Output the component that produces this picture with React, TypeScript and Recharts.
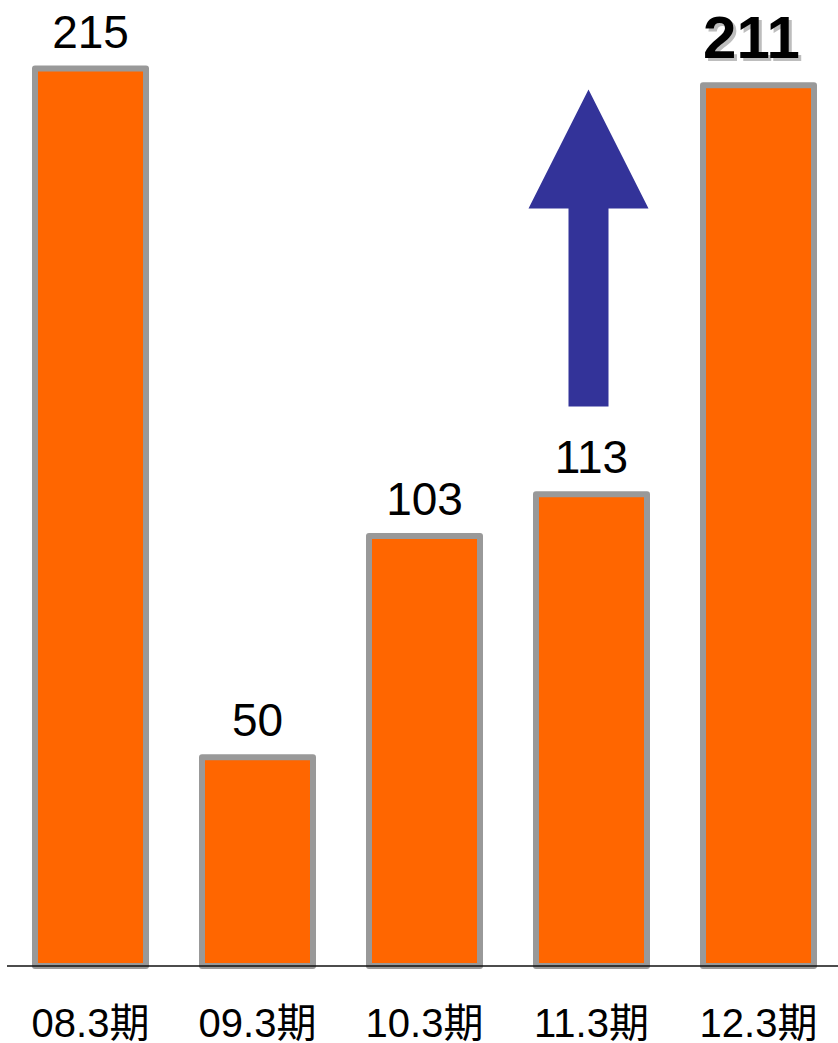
import React from 'react';
import { BarChart, Bar, XAxis, YAxis, LabelList, ReferenceDot } from 'recharts';

const periods = ['08.3期', '09.3期', '10.3期', '11.3期', '12.3期'];
const amounts = [215, 50, 103, 113, 211];
const highlightIndex = 4;
const arrowPeriod = '11.3期';
const arrowTipValue = 210;

const data = periods.map((period, i) => ({ period, value: amounts[i] }));

const FONT = "'Liberation Sans', Arial, 'Noto Sans CJK JP', sans-serif";

// Value label above each bar, last one bold with a soft shadow
const ValueLabel = (props: any) => {
  const { x, y, width, value, index } = props;
  const cx = x + width / 2;
  if (index === highlightIndex) {
    return (
      <g>
        <text x={cx - 4} y={y - 24} textAnchor="middle" fontFamily={FONT} fontSize={60} fontWeight="bold" fill="#bdbdbd">
          {value}
        </text>
        <text x={cx - 7} y={y - 27} textAnchor="middle" fontFamily={FONT} fontSize={60} fontWeight="bold" fill="#000">
          {value}
        </text>
      </g>
    );
  }
  return (
    <text x={cx} y={y - 21} textAnchor="middle" fontFamily={FONT} fontSize={46} fill="#000">
      {value}
    </text>
  );
};

const PeriodTick = (props: any) => {
  const { x, y, payload } = props;
  return (
    <text x={x} y={y + 71} textAnchor="middle" fontFamily={FONT} fontSize={40} fill="#000">
      {payload.value}
    </text>
  );
};

// Big upward arrow, tip anchored at data point
const ArrowShape = (props: any) => {
  const { cx, cy } = props;
  const tx = cx - 3;
  const headH = 119;
  const headW = 60;
  const shaftW = 20;
  const len = 317;
  const d = `M${tx},${cy} L${tx + headW},${cy + headH} L${tx + shaftW},${cy + headH} L${tx + shaftW},${cy + len} L${tx - shaftW},${cy + len} L${tx - shaftW},${cy + headH} L${tx - headW},${cy + headH} Z`;
  return <path d={d} fill="#333399" />;
};

const App: React.FC = () => {
  return (
    <div style={{ position: 'absolute', left: 0, top: 0, width: 838, height: 1043, background: '#fff', overflow: 'hidden' }}>
      <BarChart width={838} height={1043} data={data} margin={{ top: 6, right: -4, left: 7, bottom: 0 }}>
        <XAxis
          dataKey="period"
          height={77}
          tickSize={0}
          tickMargin={0}
          tickLine={false}
          axisLine={{ stroke: '#111', strokeWidth: 1.5 }}
          tick={<PeriodTick />}
          interval={0}
        />
        <YAxis hide domain={[0, 230]} />
        <Bar
          dataKey="value"
          barSize={111}
          fill="#FF6600"
          stroke="#999999"
          strokeWidth={6}
          strokeLinejoin="round"
          isAnimationActive={false}
        >
          <LabelList dataKey="value" content={<ValueLabel />} />
        </Bar>
        <ReferenceDot x={arrowPeriod} y={arrowTipValue} r={0} shape={<ArrowShape />} />
      </BarChart>
    </div>
  );
};

export default App;
